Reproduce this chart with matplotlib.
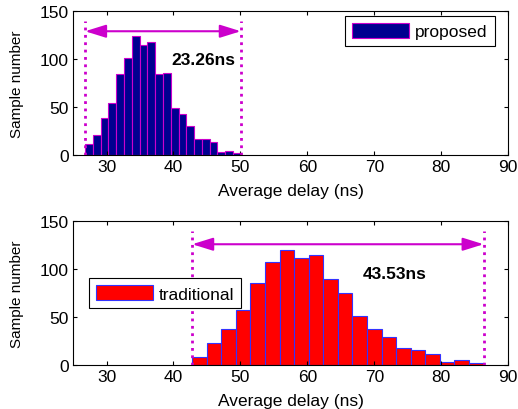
import numpy as np
import matplotlib.pyplot as plt

plt.rcParams['font.family'] = ['Liberation Sans', 'DejaVu Sans']

# proposed: 20 bins from 26.8 ns spanning 23.26 ns
prop_start = 26.8
prop_span = 23.26
prop_counts = [11, 21, 39, 54, 84, 101, 124, 115, 118, 84,
               85, 49, 43, 30, 17, 17, 14, 3, 4.5, 2.5]

# traditional: 20 bins from 42.8 ns spanning 43.53 ns
trad_start = 42.8
trad_span = 43.53
trad_counts = [8, 23, 38, 57, 86, 108, 120, 112, 114.5, 90,
               75, 51, 38, 29.5, 18, 15.6, 12, 3, 5, 2]

xticks = [30, 40, 50, 60, 70, 80, 90]
yticks = [0, 50, 100, 150]
mag = '#cc00cc'

fig = plt.figure(figsize=(5.18, 4.10), dpi=100)
ax1 = fig.add_axes([0.141, 0.6195, 0.840, 0.351])
ax2 = fig.add_axes([0.141, 0.107, 0.840, 0.351])


def draw(ax, start, span, counts, face, edge, label, arrow_y, txt, txt_x, txt_y, loc_box):
    edges = np.linspace(start, start + span, len(counts) + 1)
    ax.bar(edges[:-1], counts, width=np.diff(edges), align='edge',
           color=face, edgecolor=edge, linewidth=0.8, label=label)
    end = start + span
    ax.plot([start, start], [0, 140], ls=':', color=mag, lw=2)
    ax.plot([end, end], [0, 140], ls=':', color=mag, lw=2)
    ax.annotate('', xy=(start, arrow_y), xytext=(end, arrow_y),
                arrowprops=dict(arrowstyle='<|-|>,head_length=0.9,head_width=0.28',
                                color=mag, lw=1.5, mutation_scale=14,
                                shrinkA=0, shrinkB=0))
    ax.text(txt_x, txt_y, txt, fontsize=12.5, fontweight='bold', ha='center', va='center')
    ax.set_xlim(25, 90)
    ax.set_ylim(0, 150)
    ax.set_xticks(xticks)
    ax.set_yticks(yticks)
    ax.tick_params(direction='in', top=True, right=True, labelsize=12.5, length=3, pad=3)
    ax.set_xlabel('Average delay (ns)', fontsize=12.5, labelpad=6)
    ax.set_ylabel('Sample number', fontsize=11, labelpad=11)
    leg = ax.legend(loc='center', bbox_to_anchor=loc_box, fancybox=False, framealpha=1,
                    edgecolor='black', fontsize=12.5, handlelength=3.3, handleheight=1.0,
                    borderpad=0.4, handletextpad=0.35, borderaxespad=0)
    leg.get_frame().set_linewidth(0.8)


draw(ax1, prop_start, prop_span, prop_counts, '#000090', mag, 'proposed',
     129, '23.26ns', 44.4, 100, (0.797, 0.861))
draw(ax2, trad_start, trad_span, trad_counts, '#ff0000', '#3333ff', 'traditional',
     126, '43.53ns', 73, 95, (0.2115, 0.5))

fig.savefig('out.png', dpi=100)
